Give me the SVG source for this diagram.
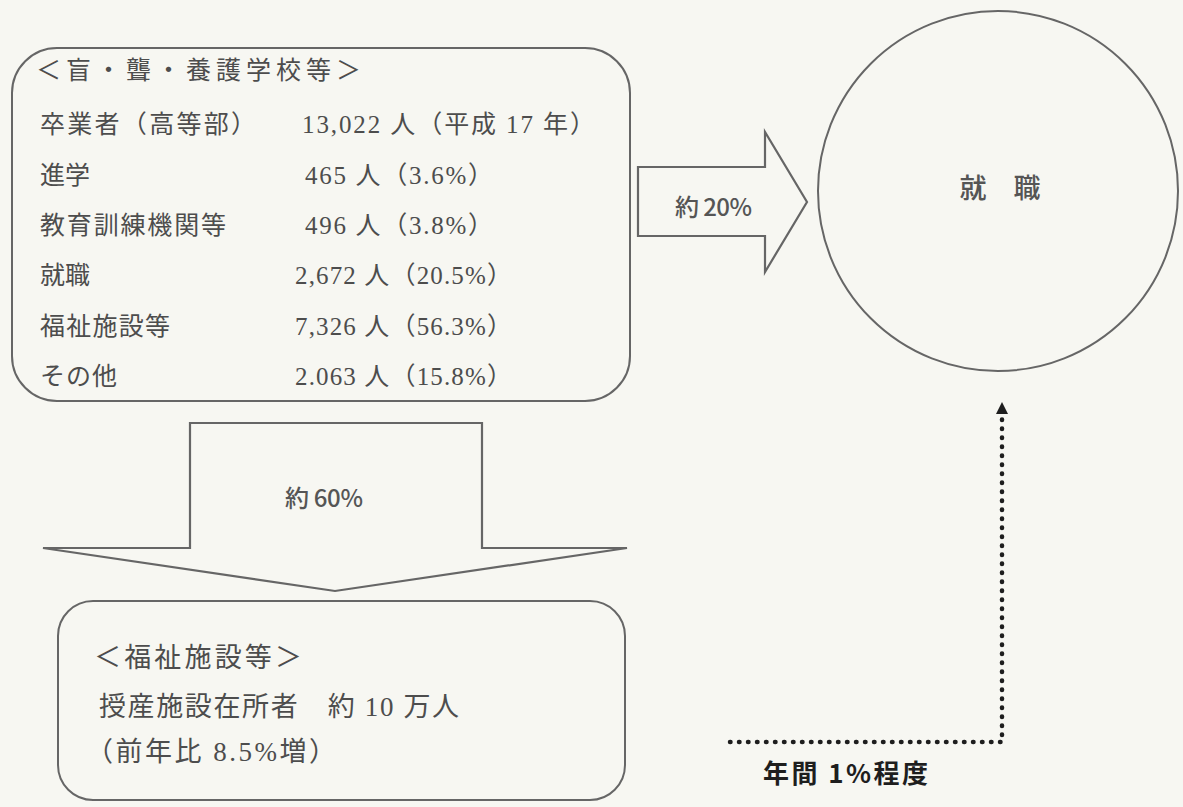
<svg xmlns="http://www.w3.org/2000/svg" width="1183" height="807" viewBox="0 0 1183 807">
  <defs>
    <style>
      .box { fill: none; stroke: #666; stroke-width: 2; }
      .shape { fill: none; stroke: #666; stroke-width: 2.2; stroke-linejoin: miter; }
      .mincho { font-family: 'Liberation Serif', 'Noto Sans CJK JP', serif; fill: #4d4d4d; }
      .t23 { font-size: 25px; }
      .t26 { font-size: 27px; }
      .gothic { font-family: 'Noto Sans CJK JP', 'Liberation Sans', sans-serif; fill: #555; font-weight: 500; }
      .dots { fill: none; stroke: #1e1e1e; stroke-width: 4.5; stroke-dasharray: 0.5 8.5; stroke-linecap: round; }
      .dark { font-family: 'Noto Sans CJK JP', 'Liberation Sans', sans-serif; fill: #1e1e1e; font-weight: 700; font-size: 26px; }
    </style>
    <marker id="ah" viewBox="0 0 10 10" refX="0" refY="5" markerWidth="14" markerHeight="12" orient="auto" markerUnits="userSpaceOnUse">
      <path d="M0,0 L10,5 L0,10 z" fill="#1e1e1e"/>
    </marker>
  </defs>
  <rect width="1183" height="807" fill="#f7f7f2"/>

  <g id="node-school">
    <rect class="box" x="12" y="48" width="618" height="353" rx="45" ry="45"/>
    <text class="mincho t23" x="36" y="79" textLength="325">＜盲・聾・養護学校等＞</text>
    <text class="mincho t23" x="40" y="133" textLength="216">卒業者（高等部）</text>
    <text class="mincho t23" x="302" y="133" textLength="293">13,022 人（平成 17 年）</text>
    <text class="mincho t23" x="40" y="184" textLength="50">進学</text>
    <text class="mincho t23" x="305" y="184" textLength="188">465 人（3.6%）</text>
    <text class="mincho t23" x="40" y="234" textLength="186">教育訓練機関等</text>
    <text class="mincho t23" x="305" y="234" textLength="188">496 人（3.8%）</text>
    <text class="mincho t23" x="40" y="284" textLength="50">就職</text>
    <text class="mincho t23" x="295" y="284" textLength="217">2,672 人（20.5%）</text>
    <text class="mincho t23" x="40" y="335" textLength="130">福祉施設等</text>
    <text class="mincho t23" x="295" y="335" textLength="217">7,326 人（56.3%）</text>
    <text class="mincho t23" x="40" y="385" textLength="77">その他</text>
    <text class="mincho t23" x="295" y="385" textLength="217">2.063 人（15.8%）</text>
  </g>

  <g id="node-welfare">
    <rect class="box" x="58" y="601" width="567" height="199" rx="35" ry="35"/>
    <text class="mincho t26" x="94" y="667" textLength="208">＜福祉施設等＞</text>
    <text class="mincho t26" x="99" y="716" textLength="360">授産施設在所者　約 10 万人</text>
    <text class="mincho t26" x="86" y="761" textLength="250">（前年比 8.5%増）</text>
  </g>

  <g id="node-employment">
    <circle class="box" cx="998" cy="191" r="180"/>
    <text class="gothic" x="1000" y="198" font-size="27" text-anchor="middle">就　職</text>
  </g>

  <g id="connectors">
    <g id="arrow-60">
      <path class="shape" d="M190,423 L482,423 L482,548 L627,548 L335,591 L43,548 L190,548 Z"/>
      <text class="gothic" x="285" y="507" font-size="24" textLength="78">約 60%</text>
    </g>
    <g id="arrow-20">
      <path class="shape" d="M638,167 L765,167 L765,132 L807,202 L765,272 L765,236 L638,236 Z"/>
      <text class="gothic" x="675" y="216" font-size="24" textLength="77">約 20%</text>
    </g>
    <g id="arrow-1pct">
      <path class="dots" d="M730,742 L1002,742 L1002,414" marker-end="url(#ah)"/>
      <text class="dark" x="763" y="783" textLength="165">年間 1%程度</text>
    </g>
  </g>
</svg>
